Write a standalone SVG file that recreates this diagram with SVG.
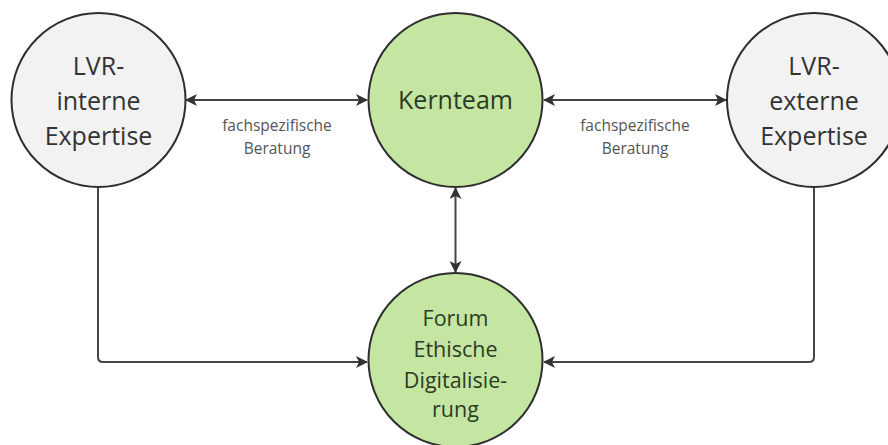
<svg xmlns="http://www.w3.org/2000/svg" width="888" height="445" viewBox="0 0 888 445">
<style>
.gray{fill:#f2f2f2;stroke:#2e2e2e;stroke-width:2}
.green{fill:#c5e5a2;stroke:#2e2e2e;stroke-width:2}
.nt{font-family:"Open Sans",sans-serif;font-size:25px;fill:#333;text-anchor:middle}
.gt{fill:#2c3b24}
.ft{font-family:"Open Sans",sans-serif;font-size:21.5px;fill:#2c3b24;text-anchor:middle}
.lbl{font-family:"Open Sans",sans-serif;font-size:15.5px;fill:#555;text-anchor:middle}
.c{fill:none;stroke:#444;stroke-width:2}
</style>
<defs>
<marker id="ah" viewBox="0 0 12 12" refX="11" refY="6" markerWidth="12" markerHeight="12" markerUnits="userSpaceOnUse" orient="auto-start-reverse">
<path d="M0,0 L12,6 L0,12 L3,6 Z" fill="#333"/>
</marker>
</defs>
<rect width="888" height="445" fill="#fff"/>
<g id="connectors">
<line class="c" x1="186" y1="100" x2="367" y2="100" marker-start="url(#ah)" marker-end="url(#ah)"/>
<line class="c" x1="544" y1="100" x2="726" y2="100" marker-start="url(#ah)" marker-end="url(#ah)"/>
<line class="c" x1="455.5" y1="188" x2="455.5" y2="272" marker-start="url(#ah)" marker-end="url(#ah)"/>
<path class="c" d="M98,187 V357 Q98,362 103,362 H367" marker-end="url(#ah)"/>
<path class="c" d="M814,187 V357 Q814,362 809,362 H544" marker-end="url(#ah)"/>
<text class="lbl" x="277" y="131">fachspezifische</text>
<text class="lbl" x="277" y="154">Beratung</text>
<text class="lbl" x="635" y="131">fachspezifische</text>
<text class="lbl" x="635" y="154">Beratung</text>
</g>
<g id="lvr-interne">
<circle class="gray" cx="98.5" cy="100" r="87"/>
<text class="nt" x="98.5" y="75">LVR-</text>
<text class="nt" x="98.5" y="110">interne</text>
<text class="nt" x="98.5" y="145">Expertise</text>
</g>
<g id="kernteam">
<circle class="green" cx="455.5" cy="100" r="87"/>
<text class="nt gt" x="455.5" y="109">Kernteam</text>
</g>
<g id="lvr-externe">
<circle class="gray" cx="814" cy="100" r="87"/>
<text class="nt" x="814" y="75">LVR-</text>
<text class="nt" x="814" y="110">externe</text>
<text class="nt" x="814" y="145">Expertise</text>
</g>
<g id="forum">
<circle class="green" cx="455.5" cy="360" r="87"/>
<text class="ft" x="455.5" y="326">Forum</text>
<text class="ft" x="455.5" y="357">Ethische</text>
<text class="ft" x="455.5" y="388">Digitalisie-</text>
<text class="ft" x="455.5" y="417">rung</text>
</g>
</svg>
